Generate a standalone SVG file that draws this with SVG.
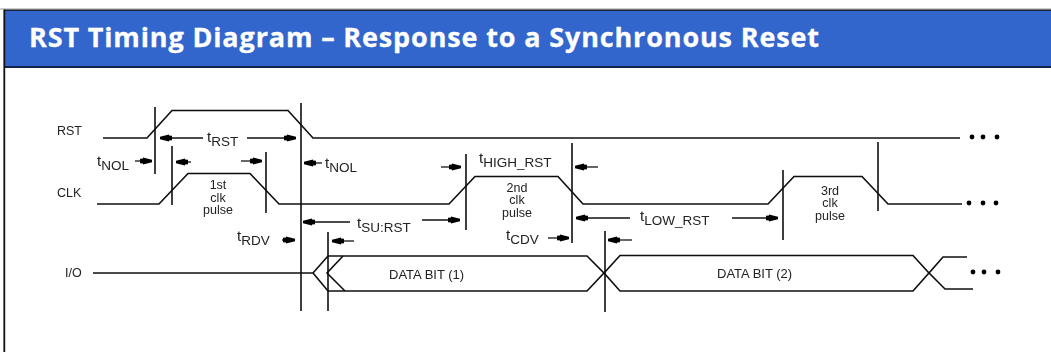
<svg xmlns="http://www.w3.org/2000/svg" width="1051" height="352" viewBox="0 0 1051 352">
<defs>
<marker id="arr" markerUnits="userSpaceOnUse" markerWidth="16" markerHeight="12" refX="14" refY="6" orient="auto"><path d="M2 3.800L5 3.400L5 2.400L14 4.800L14 7.200L5 9.600L5 8.600L2 8.200Z" fill="#000"/></marker>
<filter id="soft" x="0" y="0" width="1" height="1" filterUnits="objectBoundingBox"><feGaussianBlur stdDeviation="0.4"/></filter>
</defs>
<style>
.w{fill:none;stroke:#111;stroke-width:1.600}
.g{stroke:#111;stroke-width:1.600;fill:none}
.a{stroke:#111;stroke-width:1.300;fill:none;marker-end:url(#arr)}
text{font-family:"Liberation Sans",Arial,sans-serif;fill:#222}
.l{font-size:12.500px}
.t{font-size:15px}
.s{font-size:13.500px}
.p{font-size:12.500px;text-anchor:middle}
.d{font-size:13px}
.dot{fill:#000}
</style>
<rect width="1051" height="352" fill="#fff"/>
<g id="frame">
<rect x="4" y="10" width="1047" height="58" fill="#3366cc"/>
<path d="M0 9H1051" stroke="#999" stroke-width="1"/>
<path d="M4 10.300H1051" stroke="#1a2238" stroke-width="1.500"/>
<path d="M4 67H1051" stroke="#0a1020" stroke-width="1.600"/>
<path d="M4.300 9.500V352" stroke="#111" stroke-width="1.800"/>
<text x="29" y="47" font-size="27" font-weight="700" style="fill:#fff;font-family:'Open Sans',sans-serif;stroke:#fff;stroke-width:0.300" textLength="790" lengthAdjust="spacing">RST Timing Diagram – Response to a Synchronous Reset</text>
</g>
<g filter="url(#soft)">
<g id="connectors">
<path class="w" d="M103 138H147L172 110.500H288L313 138H960"/>
<path class="w" d="M97 204H159L188 173.500H250L279 204H449L475 176.500H558L583 204H768L794 176.500H862L888 204H962"/>
<path class="w" d="M93 273H313L328 256H331H587L604 273L620 255.500H913L929 273L943 257H967"/>
<path class="w" d="M313 273L328 291H587L604 273L620 291H913L929 273L945 289H973"/>
<path class="w" d="M343 256L327 273L345 291"/>
<path class="g" d="M155 107V174M172 146V205M266 152V213M301 103V311M328 232V311M466 154V230M572 143V243M605 231V312M783 170V240M878 142V211"/>
<path class="a" d="M203 138H160"/>
<path class="a" d="M247 138H296"/>
<path class="a" d="M135 161H152"/>
<path class="a" d="M191 162H176"/>
<path class="a" d="M241 161H262"/>
<path class="a" d="M322 163H304"/>
<path class="a" d="M441 167H461"/>
<path class="a" d="M598 167H575"/>
<path class="a" d="M350 222H303"/>
<path class="a" d="M422 220H460"/>
<path class="a" d="M282 240H295"/>
<path class="a" d="M354 241H332"/>
<path class="a" d="M548 238H569"/>
<path class="a" d="M632 240H608"/>
<path class="a" d="M630 218H576"/>
<path class="a" d="M732 218H778"/>
</g>
<g id="rst-label"><text class="l" x="57" y="135">RST</text></g>
<g id="clk-label"><text class="l" x="57" y="197">CLK</text></g>
<g id="io-label"><text class="l" x="65" y="277">I/O</text></g>
<g id="timing-labels">
<text class="t" x="207" y="142">t<tspan class="s" dy="4">RST</tspan></text>
<text class="t" x="97" y="166">t<tspan class="s" dy="4">NOL</tspan></text>
<text class="t" x="325" y="168">t<tspan class="s" dy="4">NOL</tspan></text>
<text class="t" x="479" y="163">t<tspan class="s" dy="4">HIGH_RST</tspan></text>
<text class="t" x="357" y="228">t<tspan class="s" dy="4">SU:RST</tspan></text>
<text class="t" x="237" y="241">t<tspan class="s" dy="4">RDV</tspan></text>
<text class="t" x="506" y="240">t<tspan class="s" dy="4">CDV</tspan></text>
<text class="t" x="640" y="221">t<tspan class="s" dy="4">LOW_RST</tspan></text>
</g>
<g id="pulse-1"><text class="p" x="218" y="189">1st</text><text class="p" x="218" y="202">clk</text><text class="p" x="218" y="214">pulse</text></g>
<g id="pulse-2"><text class="p" x="517" y="192">2nd</text><text class="p" x="517" y="204">clk</text><text class="p" x="517" y="217">pulse</text></g>
<g id="pulse-3"><text class="p" x="830" y="195">3rd</text><text class="p" x="830" y="207">clk</text><text class="p" x="830" y="220">pulse</text></g>
<g id="data-1"><text class="d" x="389" y="279">DATA BIT (1)</text></g>
<g id="data-2"><text class="d" x="717" y="278">DATA BIT (2)</text></g>
<g id="ellipses">
<circle class="dot" cx="972" cy="137" r="2.400"/><circle class="dot" cx="983" cy="137" r="2.400"/><circle class="dot" cx="997" cy="137" r="2.400"/>
<circle class="dot" cx="969" cy="203" r="2.400"/><circle class="dot" cx="983" cy="203" r="2.400"/><circle class="dot" cx="996" cy="203" r="2.400"/>
<circle class="dot" cx="973" cy="272" r="2.400"/><circle class="dot" cx="984" cy="272" r="2.400"/><circle class="dot" cx="998" cy="272" r="2.400"/>
</g>
</g>
</svg>
